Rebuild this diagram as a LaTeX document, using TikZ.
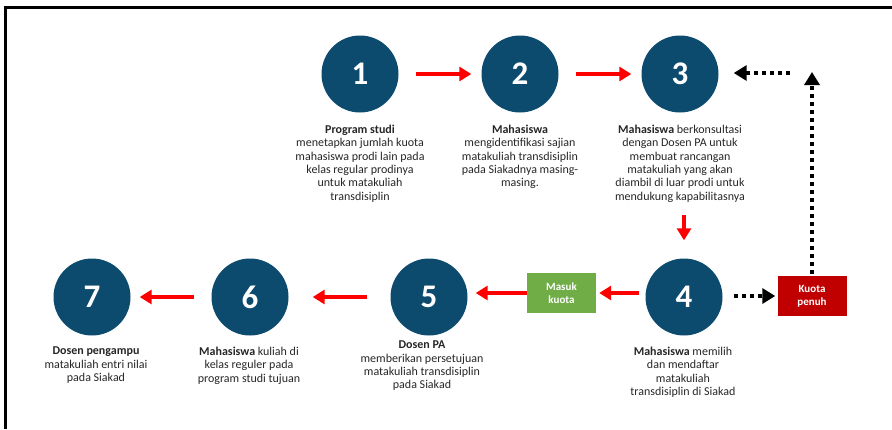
\documentclass[tikz,border=0pt]{standalone}
\usepackage{fontspec}
\setmainfont{Carlito}
\usetikzlibrary{arrows.meta}
\definecolor{stepblue}{RGB}{12,74,110}
\definecolor{boxgreen}{RGB}{112,173,71}
\definecolor{boxred}{RGB}{192,0,0}
\definecolor{arrred}{RGB}{255,0,0}
\tikzset{
  stepcirc/.style={circle, fill=stepblue, minimum size=77pt, inner sep=0pt,
    text=white, font=\fontsize{33}{36}\selectfont\bfseries},
  desc/.style={align=center, anchor=north, inner sep=0pt, text=black!85,
    font=\fontsize{12}{13.3}\selectfont},
  tagbox/.style={rectangle, minimum width=69pt, minimum height=40pt, inner sep=0pt,
    align=center, text=white, font=\fontsize{11}{13}\selectfont\bfseries},
  redarrow/.style={draw=arrred, line width=3.5pt, -{Triangle[length=12pt,width=14pt]}},
  dotarrow/.style={draw=black, line width=4pt, dash pattern=on 4pt off 4pt,
    -{Triangle[length=13pt,width=15pt]}},
}
\begin{document}
\begin{tikzpicture}[x=1pt,y=-1pt]
\useasboundingbox (0,0) rectangle (892,429);
% frame
\draw[line width=2.5pt] (5.5,429) -- (5.5,7.5) -- (892,7.5);
% circles
\node[stepcirc] (c1) at (360,74) {1};
\node[stepcirc] (c2) at (520,74) {2};
\node[stepcirc] (c3) at (680,74) {3};
\node[stepcirc] (c4) at (684,297) {4};
\node[stepcirc] (c5) at (429,297) {5};
\node[stepcirc] (c6) at (250,297) {6};
\node[stepcirc] (c7) at (92,297) {7};
% boxes
\node[tagbox, fill=boxgreen] (masuk) at (561.5,293) {Masuk\\kuota};
\node[tagbox, fill=boxred] (penuh) at (812,296) {Kuota\\penuh};
% descriptions
\node[desc] (t1) at (360,125) {\textbf{Program studi}\\menetapkan jumlah kuota\\mahasiswa prodi lain pada\\kelas regular prodinya\\untuk matakuliah\\transdisiplin};
\node[desc] (t2) at (520,125) {\textbf{Mahasiswa}\\mengidentifikasi sajian\\matakuliah transdisiplin\\pada Siakadnya masing-\\masing.};
\node[desc] (t3) at (680,125) {\textbf{Mahasiswa} berkonsultasi\\dengan Dosen PA untuk\\membuat rancangan\\matakuliah yang akan\\diambil di luar prodi untuk\\mendukung kapabilitasnya};
\node[desc] (t4) at (683,347) {\textbf{Mahasiswa} memilih\\dan mendaftar\\matakuliah\\transdisiplin di Siakad};
\node[desc] (t5) at (422,341) {\textbf{Dosen PA}\\memberikan persetujuan\\matakuliah transdisiplin\\pada Siakad};
\node[desc] (t6) at (249,347) {\textbf{Mahasiswa} kuliah di\\kelas reguler pada\\program studi tujuan};
\node[desc] (t7) at (96,347) {\textbf{Dosen pengampu}\\matakuliah entri nilai\\pada Siakad};
% red arrows
\draw[redarrow, shorten <=17pt, shorten >=10pt] (c1) -- (c2);
\draw[redarrow, shorten <=17pt, shorten >=10pt] (c2) -- (c3);
\coordinate (a34) at (684,215);
\draw[redarrow, shorten >=18pt] (a34) -- (c4);
\draw[redarrow, shorten <=6pt, shorten >=3pt] (c4.west |- masuk.east) -- (masuk.east);
\draw[redarrow, shorten >=8pt] (masuk.west) -- (c5.east |- masuk.west);
\draw[redarrow, shorten <=23pt, shorten >=24pt] (c5.west) -- (c6.east);
\draw[redarrow, shorten <=17pt, shorten >=9pt] (c6.west) -- (c7.east);
% dotted arrows
\draw[dotarrow, shorten <=11pt, shorten >=2pt] (c4.east |- penuh.west) -- (penuh.west);
\coordinate (up) at (812,72);
\draw[dotarrow, shorten <=2pt] (penuh.north) -- (up);
\coordinate (lstart) at (790,73);
\draw[dotarrow, shorten >=15pt] (lstart) -- (c3.east |- lstart);
\end{tikzpicture}
\end{document}
